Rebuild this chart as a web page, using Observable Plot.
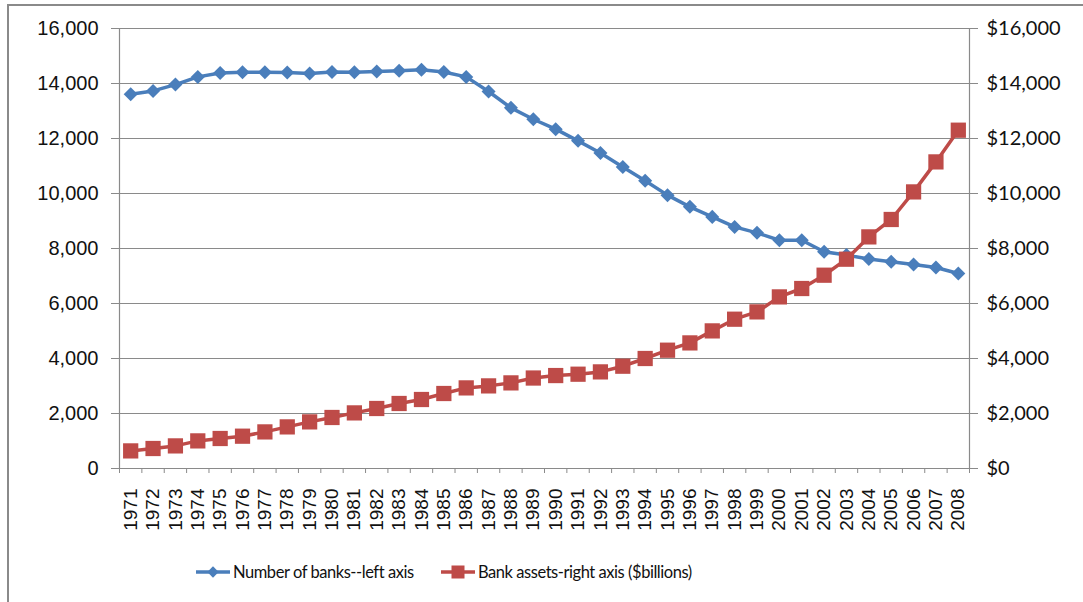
<!DOCTYPE html>
<html>
<head>
<meta charset="utf-8">
<script src="https://cdn.jsdelivr.net/npm/d3@7"></script>
<script src="https://cdn.jsdelivr.net/npm/@observablehq/plot@0.6"></script>
<style>
  html, body { margin: 0; padding: 0; background: #fff; }
  #page { position: relative; width: 1083px; height: 602px; overflow: hidden; background: #fff; }
  #frame { position: absolute; left: 7px; top: 4px; width: 1200px; height: 800px; border: 2px solid #8a8a8a; box-sizing: border-box; pointer-events: none; }
  #chart { position: absolute; left: 0; top: 0; }
  .legend-item { position: absolute; top: 560px; height: 24px; display: flex; align-items: center; font-family: Lato, "Open Sans", sans-serif; font-size: 16.5px; letter-spacing: -0.45px; color: #111; white-space: nowrap; }
  .legend-item svg { display: block; margin-right: 2px; }
</style>
</head>
<body>
<div id="page">
  <div id="chart"></div>
  <div id="frame"></div>
  <div class="legend-item" id="leg-banks" style="left:196px"></div>
  <div class="legend-item" id="leg-assets" style="left:441px"></div>
</div>
<script>
// Commercial banks in the U.S., 1971–2008
const years = [1971, 1972, 1973, 1974, 1975, 1976, 1977, 1978, 1979, 1980,
               1981, 1982, 1983, 1984, 1985, 1986, 1987, 1988, 1989, 1990,
               1991, 1992, 1993, 1994, 1995, 1996, 1997, 1998, 1999, 2000,
               2001, 2002, 2003, 2004, 2005, 2006, 2007, 2008];

// Number of banks (left axis)
const banks = [13612, 13730, 13960, 14240, 14385, 14410, 14410, 14400, 14365, 14420,
               14410, 14435, 14460, 14500, 14420, 14240, 13710, 13115, 12700, 12340,
               11915, 11475, 10965, 10460, 9940, 9515, 9150, 8785, 8570, 8300,
               8300, 7880, 7760, 7615, 7515, 7420, 7310, 7090];

// Bank assets in $ billions (right axis)
const assets = [640, 727, 822, 1004, 1091, 1175, 1331, 1513, 1695, 1855,
                2022, 2182, 2364, 2509, 2727, 2931, 3004, 3113, 3290, 3380,
                3429, 3513, 3720, 4000, 4302, 4567, 5004, 5429, 5695, 6240,
                6545, 7029, 7611, 8422, 9055, 10058, 11149, 12302];

// Shared value ticks for both vertical axes
const valueTicks = [0, 2000, 4000, 6000, 8000, 10000, 12000, 14000, 16000];

const seriesNames = ["Number of banks--left axis", "Bank assets-right axis ($billions)"];

const blue = "#4A7EBB";
const red = "#BE4B48";
const gridColor = "#8a8a8a";

const rows = years.map((year, i) => ({year, banks: banks[i], assets: assets[i]}));

// Category boundaries: tick marks sit between the years
const first = years[0] - 0.5;
const last = years[years.length - 1] + 0.5;
const bounds = years.map(y => y - 0.5).concat([last]);

const fmt = d3.format(",");

const chart = Plot.plot({
  width: 1083,
  height: 545,
  marginLeft: 119,
  marginRight: 114,
  marginTop: 28,
  marginBottom: 77,
  style: {background: "transparent", color: "#111"},
  x: {type: "linear", domain: [first, last]},
  y: {domain: [0, 16000]},
  marks: [
    Plot.gridY(valueTicks, {stroke: gridColor, strokeOpacity: 1, strokeWidth: 1.2}),
    Plot.ruleX([first, last], {stroke: gridColor, strokeWidth: 1.2}),
    Plot.axisY({ticks: valueTicks, anchor: "left", tickSize: 8, tickPadding: 13,
                tickFormat: fmt, label: null, stroke: gridColor,
                fontSize: 20, fontFamily: "Liberation Sans, Arial, sans-serif"}),
    Plot.axisY({ticks: valueTicks, anchor: "right", tickSize: 8, tickPadding: 9,
                tickFormat: d => "$" + fmt(d), label: null, stroke: gridColor,
                fontSize: 20, fontFamily: "Lato, sans-serif"}),
    Plot.axisX({ticks: bounds, anchor: "bottom", tickSize: 5, tickFormat: () => "",
                label: null, stroke: gridColor}),
    Plot.axisX({ticks: years, anchor: "bottom", tickSize: 0, tickPadding: 20, tickRotate: -90,
                tickFormat: d => String(d), label: null,
                fontSize: 19, fontFamily: "Liberation Sans, Arial, sans-serif"}),
    Plot.line(rows, {x: "year", y: "banks", stroke: blue, strokeWidth: 3.5}),
    Plot.dot(rows, {x: "year", y: "banks", symbol: "square", rotate: 45, r: 5.6, fill: blue}),
    Plot.line(rows, {x: "year", y: "assets", stroke: red, strokeWidth: 3.5}),
    Plot.dot(rows, {x: "year", y: "assets", symbol: "square", r: 8.6, fill: red})
  ]
});
document.getElementById("chart").appendChild(chart);

// Legend swatches: line segment with the series marker
function swatch(color, diamond) {
  const ns = "http://www.w3.org/2000/svg";
  const svg = document.createElementNS(ns, "svg");
  svg.setAttribute("width", 35);
  svg.setAttribute("height", 24);
  const line = document.createElementNS(ns, "line");
  line.setAttribute("x1", 0); line.setAttribute("x2", 34);
  line.setAttribute("y1", 12); line.setAttribute("y2", 12);
  line.setAttribute("stroke", color); line.setAttribute("stroke-width", 3.5);
  svg.appendChild(line);
  const m = document.createElementNS(ns, "rect");
  const s = diamond ? 8 : 13;
  m.setAttribute("x", 17 - s / 2); m.setAttribute("y", 12 - s / 2);
  m.setAttribute("width", s); m.setAttribute("height", s);
  m.setAttribute("fill", color);
  if (diamond) m.setAttribute("transform", "rotate(45 17 12)");
  svg.appendChild(m);
  return svg;
}
const legBanks = document.getElementById("leg-banks");
legBanks.appendChild(swatch(blue, true));
legBanks.appendChild(document.createTextNode(seriesNames[0]));
const legAssets = document.getElementById("leg-assets");
legAssets.appendChild(swatch(red, false));
legAssets.appendChild(document.createTextNode(seriesNames[1]));
</script>
</body>
</html>
